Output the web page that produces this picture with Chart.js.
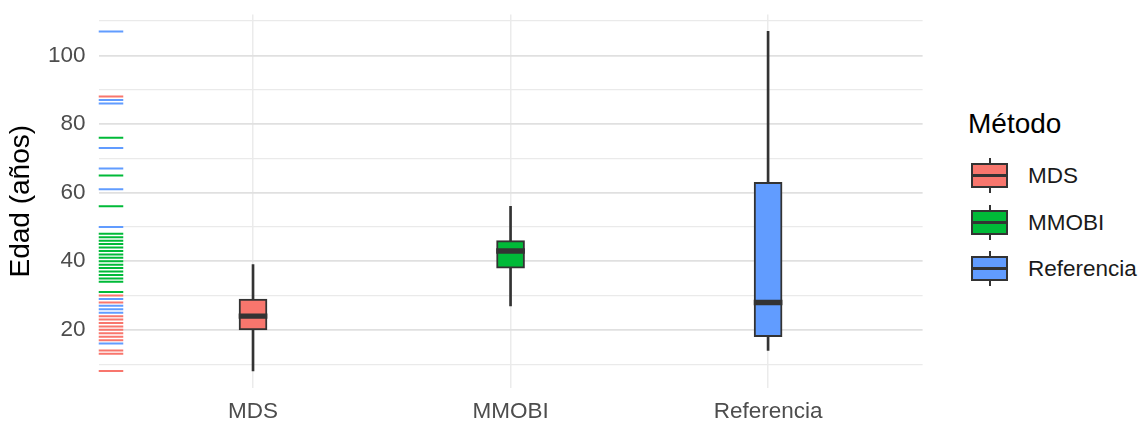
<!DOCTYPE html>
<html>
<head>
<meta charset="utf-8">
<script src="https://cdn.jsdelivr.net/npm/chart.js@4"></script>
<style>
  html, body { margin: 0; padding: 0; background: #fff; }
  body { width: 1146px; height: 421px; position: relative; overflow: hidden;
         font-family: "Liberation Sans", Arial, sans-serif; }
  #wrap { position: absolute; left: 0; top: 0; width: 937px; height: 421px; }
  #legend { position: absolute; left: 968px; top: 0; }
  .lg-title { position: absolute; left: 0; top: 107px; font-size: 28px; line-height: 34px; color: #000; white-space: nowrap; }
  .lg-row { position: absolute; left: 3px; height: 35px; width: 180px; }
  .glyph { position: absolute; left: 0; top: 0; width: 37px; height: 35px; }
  .glyph .wh { position: absolute; left: 17.5px; top: 0; width: 2px; height: 35px; background: #333; }
  .glyph .bx { position: absolute; left: 0; top: 5px; width: 37px; height: 25px; box-sizing: border-box; border: 2px solid #333; }
  .glyph .md { position: absolute; left: 0; top: 16px; width: 37px; height: 3px; background: #333; }
  .lg-label { position: absolute; left: 57px; top: 4px; font-size: 22.5px; line-height: 27px; color: #1a1a1a; white-space: nowrap; }
</style>
</head>
<body>
<div id="wrap"><canvas id="chart"></canvas></div>
<div id="legend"></div>
<script>
// Methods (x categories) and colours
const methods = ['MDS', 'MMOBI', 'Referencia'];
const methodColors = ['#F8766D', '#00BA38', '#619CFF'];

// Boxplot statistics (years)
const whiskerLow  = [8, 27, 14];
const q1          = [20, 38, 18];
const medians     = [24, 43, 28];
const q3          = [29, 46, 63];
const whiskerHigh = [39, 56, 107];

// Rug values (ages) per method
const rugMDS   = [8, 13, 14, 17, 18, 19, 20, 21, 22, 23, 24, 28, 30, 88];
const rugMMOBI = [31, 34, 35, 36, 37, 38, 39, 40, 41, 42, 43, 44, 45, 46, 47, 48, 56, 65, 76];
const rugRef   = [16, 25, 26, 27, 29, 50, 61, 67, 73, 86, 87, 107];

// Y axis ticks
const yTicks = [10, 20, 30, 40, 50, 60, 70, 80, 90, 100, 110];
const yLabelled = [20, 40, 60, 80, 100];

const darkLine = '#333333';
const medianHalf = 0.7;      // half thickness of the median bar, in years
const rugX = 0.448;          // rug sits at the left edge of the panel

const xs = methods.map((m, i) => i + 1);

const datasets = [
  {
    label: 'median', type: 'bar', order: 0, grouped: false,
    data: xs.map((x, i) => ({ x: x, y: [medians[i] - medianHalf, medians[i] + medianHalf] })),
    backgroundColor: darkLine, barThickness: 28, borderWidth: 0
  },
  {
    label: 'box', type: 'bar', order: 1, grouped: false,
    data: xs.map((x, i) => ({ x: x, y: [q1[i], q3[i]] })),
    backgroundColor: methodColors, borderColor: darkLine, borderWidth: 2,
    borderSkipped: false, barThickness: 28
  },
  {
    label: 'whisker', type: 'bar', order: 2, grouped: false,
    data: xs.map((x, i) => ({ x: x, y: [whiskerLow[i], whiskerHigh[i]] })),
    backgroundColor: darkLine, barThickness: 2, borderWidth: 0
  }
];

[rugMDS, rugMMOBI, rugRef].forEach((vals, i) => {
  datasets.push({
    label: 'rug ' + methods[i], type: 'scatter', order: 3 + (2 - i),
    data: vals.map(v => ({ x: rugX, y: v })),
    pointStyle: 'line', pointRadius: 12.4, borderWidth: 2,
    borderColor: methodColors[i], backgroundColor: methodColors[i]
  });
});

const tickFont = { family: '"Liberation Sans", Arial, sans-serif', size: 22.5 };

new Chart(document.getElementById('chart'), {
  type: 'bar',
  data: { datasets: datasets },
  options: {
    responsive: true,
    maintainAspectRatio: false,
    animation: false,
    layout: { padding: { top: 13.5, right: 7.5, left: 0, bottom: 0 } },
    plugins: { legend: { display: false }, tooltip: { enabled: false } },
    scales: {
      x: {
        type: 'linear', min: 0.4, max: 3.6, offset: false,
        afterBuildTicks: (axis) => { axis.ticks = xs.map(v => ({ value: v })); },
        afterFit: (axis) => {
          axis.height = 33;
          axis.paddingLeft = 0;
          axis.paddingRight = 0;
        },
        ticks: {
          callback: (v) => methods[v - 1] || '',
          color: '#4d4d4d', font: tickFont, padding: 10, maxRotation: 0, autoSkip: false
        },
        grid: { color: '#ebebeb', lineWidth: 1.5, drawTicks: false, offset: false },
        border: { display: false }
      },
      y: {
        type: 'linear', min: 3.05, max: 111.95,
        afterBuildTicks: (axis) => { axis.ticks = yTicks.map(v => ({ value: v })); },
        afterFit: (axis) => {
          axis.width = 98.5;
          axis.paddingTop = 0;
          axis.paddingBottom = 0;
        },
        ticks: {
          callback: (v) => yLabelled.includes(v) ? v : '',
          color: '#4d4d4d', font: tickFont, padding: 13
        },
        grid: {
          color: (c) => yLabelled.includes(c.tick.value) ? '#e0e0e0' : '#eaeaea',
          lineWidth: (c) => yLabelled.includes(c.tick.value) ? 1.7 : 1.3,
          drawTicks: false
        },
        border: { display: false },
        title: {
          display: true, text: 'Edad (años)', color: '#000',
          font: { family: '"Liberation Sans", Arial, sans-serif', size: 28 },
          padding: { top: 4, bottom: 0 }
        }
      }
    }
  }
});

// Legend (boxplot key glyphs)
const legend = document.getElementById('legend');
const title = document.createElement('div');
title.className = 'lg-title';
title.textContent = 'Método';
legend.appendChild(title);
const rowTops = [157.5, 204.5, 250.5];
methods.forEach((m, i) => {
  const row = document.createElement('div');
  row.className = 'lg-row';
  row.style.top = rowTops[i] + 'px';
  row.innerHTML = '<div class="glyph"><div class="wh"></div><div class="bx" style="background:' +
    methodColors[i] + '"></div><div class="md"></div></div><div class="lg-label">' + m + '</div>';
  legend.appendChild(row);
});
</script>
</body>
</html>
